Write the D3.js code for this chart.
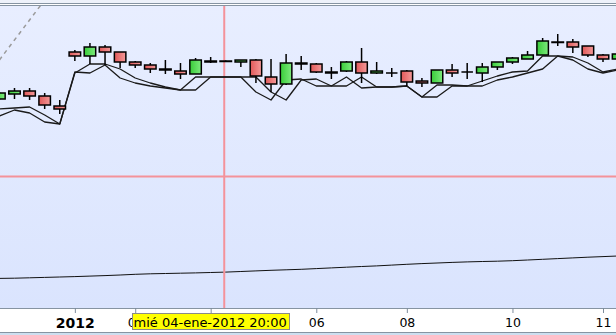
<!DOCTYPE html>
<html><head><meta charset="utf-8">
<script src="https://cdnjs.cloudflare.com/ajax/libs/d3/7.8.5/d3.min.js"></script>
<style>html,body{margin:0;padding:0;background:#fff;overflow:hidden}</style>
</head><body><svg id="c" width="616" height="335"></svg>
<script>
// candle index (categories)
const candles = [0,1,2,3,4,5,6,7,8,9,10,11,12,13,14,15,16,17,18,19,20,21,22,23,24,25,26,27,28,29,30,31,32,33,34,35,36,37,38,39,40,41];
const open  = [201,206,209,204,194,248,244,253,248,238,235,231,229,226,239,239,238,240,223,216,237,236,228,229,238,227,227,229,219,217,230,228,227,233,238,241,245,258,258,254,245,241];
const high  = [208,212,212,207,200,250,257,255,248,239,237,240,237,242,243,239.5,240,241,241,246,244,237,233,239,252,238,232,230,222,230,236,237,237,238,243,249,262,266,261,254,246,247];
const low   = [200,201,200,191,186,239,236,235,232,232,227,226,221,226,237,238.5,233,217,208,215,230,227,221,228,217,226,223,214,213,217,223,221,218,230,236,241,245,254,247,243,238,240];
const close = [207,209,204,195,191,244,253,248,238,235,231,230,226,240,238,238.5,240,224,216,237,236,228,227,238,227,229,227,218,217,230,227,228,233,238,242,245,259,257.5,253,245,241,246];
const lineA = [191,192,193,185,176,227,236,236,231,222,217,213,210,223,223,223,223,208,200,220,221,214,214,223,212,213,213,214,203,215,215,214,219,224,228,229,244,244,243,237,228,231];
const lineB = [184,190,187,178,176,228,227,235,222,217,214,212,210,210,223,223,223,223,208,200,220,221,214,214,223,213,213,214,203,203,214,214,214,220,223,227,231,244,240,231,227,230];
const longLine = [21.6,21.8,22.2,22.6,23.0,23.4,23.9,24.4,25.0,25.7,26.2,26.5,26.8,27.1,27.5,27.9,28.5,29.1,29.7,30.2,30.7,31.4,32.1,32.8,33.5,34.1,34.9,35.7,36.4,37.0,37.6,38.1,38.5,38.8,39.3,40.0,40.7,41.4,42.1,42.8,43.4,44.0];
const dashedLine = [240,260,280,300];
const tickCandles = [5,9,14,21,27,34,40];
const tickLabels = ["2012","04","","06","08","10","11"];
const cursorCandle = 14.9;
const cursorValue = 123.5;
const cursorLabel = "mié 04-ene-2012 20:00";

const W = 616, H = 335;
const plotTop = 6, plotBottom = 308;
const svg = d3.select("#c");
const defs = svg.append("defs");
const bg = defs.append("linearGradient").attr("id","bg").attr("x1",0).attr("y1",0).attr("x2",0).attr("y2",1);
bg.append("stop").attr("offset","0%").attr("stop-color","#e8eeff");
bg.append("stop").attr("offset","100%").attr("stop-color","#dae4fe");
const gg = defs.append("linearGradient").attr("id","gg").attr("x1",0).attr("y1",0).attr("x2",1).attr("y2",0);
gg.append("stop").attr("offset","0%").attr("stop-color","#38cc38");
gg.append("stop").attr("offset","100%").attr("stop-color","#7eea7e");
const rg = defs.append("linearGradient").attr("id","rg").attr("x1",0).attr("y1",0).attr("x2",1).attr("y2",0);
rg.append("stop").attr("offset","0%").attr("stop-color","#e05858");
rg.append("stop").attr("offset","100%").attr("stop-color","#f49a9a");
defs.append("clipPath").attr("id","clip").append("rect").attr("x",0).attr("y",plotTop).attr("width",W).attr("height",plotBottom-plotTop);

const x = d3.scaleLinear().domain([0,41]).range([-0.6, -0.6 + 15.09*41]);
const y = d3.scaleLinear().domain([0,300]).range([300,0]);

// frame
svg.append("rect").attr("x",0).attr("y",0).attr("width",W).attr("height",3).attr("fill","#eef2fa");
svg.append("rect").attr("x",0).attr("y",plotTop).attr("width",W).attr("height",plotBottom-plotTop).attr("fill","url(#bg)");
svg.append("line").attr("x1",0).attr("x2",W).attr("y1",3.5).attr("y2",3.5).attr("stroke","#8694a2");
svg.append("line").attr("x1",0).attr("x2",W).attr("y1",5.5).attr("y2",5.5).attr("stroke","#8694a2");
svg.append("rect").attr("x",0).attr("y",333).attr("width",W).attr("height",2).attr("fill","#cddff0");
svg.append("line").attr("x1",0).attr("x2",W).attr("y1",332.5).attr("y2",332.5).attr("stroke","#8694a2");

const g = svg.append("g").attr("clip-path","url(#clip)");

// long indicator
g.append("path").datum(longLine).attr("fill","none").attr("stroke","#111").attr("stroke-width",1)
  .attr("d", d3.line().x((d,i)=>x(candles[i])).y(d=>y(d)));
// dashed indicator
g.append("path").datum(dashedLine).attr("fill","none").attr("stroke","#9a9a9a").attr("stroke-width",1.5).attr("stroke-dasharray","4,4")
  .attr("d", d3.line().x((d,i)=>x(candles[i])).y(d=>y(d)));

// crosshair
g.append("line").attr("x1",0).attr("x2",W).attr("y1",y(cursorValue)).attr("y2",y(cursorValue)).attr("stroke","#f4929a").attr("stroke-width",2);
g.append("line").attr("x1",x(cursorCandle)).attr("x2",x(cursorCandle)).attr("y1",plotTop).attr("y2",plotBottom).attr("stroke","#f4929a").attr("stroke-width",2);

// MA lines
[lineA, lineB].forEach(arr=>{
  g.append("path").datum(arr).attr("fill","none").attr("stroke","#1a1a1a").attr("stroke-width",1.3).attr("stroke-linejoin","round")
    .attr("d", d3.line().x((d,i)=>x(candles[i])).y(d=>y(d)));
});

// candles
const bw = 11.5;
const cg = g.selectAll("g.cd").data(candles).join("g").attr("class","cd");
cg.append("line").attr("x1",i=>x(i)).attr("x2",i=>x(i)).attr("y1",i=>y(high[i])).attr("y2",i=>y(low[i])).attr("stroke","#000").attr("stroke-width",1.5);
cg.each(function(i){
  const sel = d3.select(this);
  const yo = y(open[i]), yc = y(close[i]);
  if (open[i] === close[i]) {
    sel.append("line").attr("x1",x(i)-bw/2).attr("x2",x(i)+bw/2).attr("y1",yo).attr("y2",yo).attr("stroke","#000").attr("stroke-width",1.5);
  } else {
    sel.append("rect").attr("x",x(i)-bw/2).attr("width",bw).attr("y",Math.min(yo,yc)).attr("height",Math.abs(yo-yc))
      .attr("fill", close[i]>open[i] ? "url(#gg)" : "url(#rg)").attr("stroke","#000").attr("stroke-width",1.5);
  }
});

// axis
const ax = svg.append("g").attr("transform",`translate(0,${plotBottom})`)
  .call(d3.axisBottom(x).tickValues(tickCandles).tickFormat((d,i)=>tickLabels[i]).tickSize(5).tickPadding(5).tickSizeOuter(0));
ax.select(".domain").attr("stroke","#8694a2");
ax.selectAll(".tick line").attr("stroke","#7d8c9c");
ax.selectAll(".tick text").attr("fill","#000").attr("font-family","DejaVu Sans, Verdana, sans-serif")
  .attr("font-size",(d,i)=> i===0 ? 14 : 12.5).attr("font-weight",(d,i)=> i===0 ? "bold" : "normal");

// cursor tooltip
const tt = svg.append("g");
tt.append("rect").attr("x",132.5).attr("y",313.5).attr("width",157).attr("height",16).attr("fill","#ffff00").attr("stroke","#8a8a8a");
tt.append("text").attr("x",133.5).attr("y",327).attr("font-family","DejaVu Sans, Verdana, sans-serif").attr("font-size",13).attr("fill","#000").text(cursorLabel);
</script></body></html>
